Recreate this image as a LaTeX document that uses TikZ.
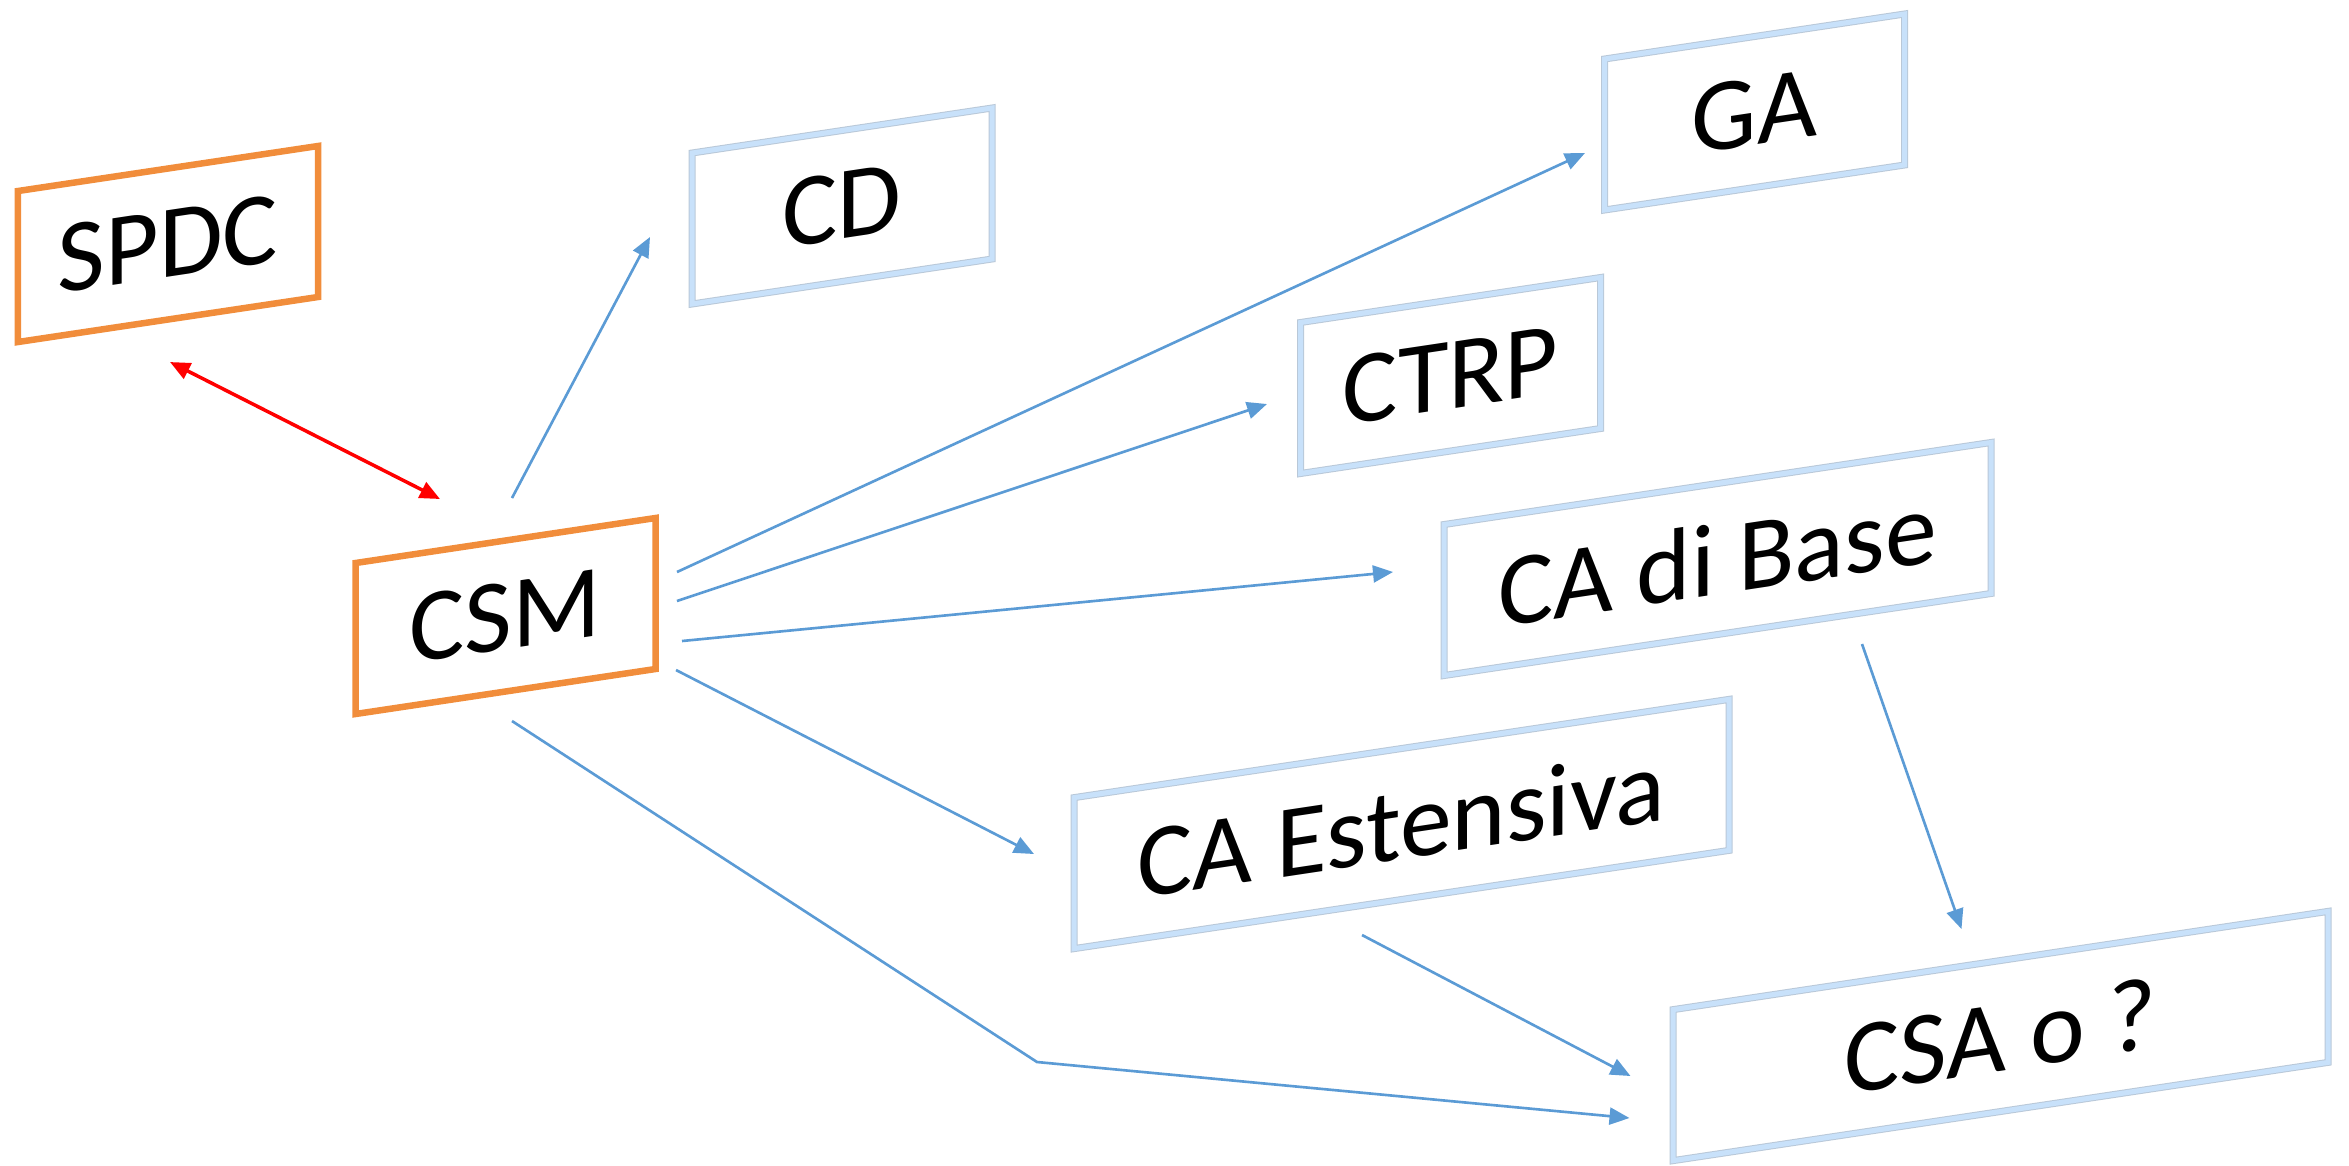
\documentclass[tikz,border=0pt]{standalone}
\usepackage{fontspec}
\setmainfont{Carlito}
\usepackage{tikz}
\usetikzlibrary{arrows.meta,shapes}
\definecolor{boxorange}{RGB}{241,141,59}
\definecolor{boxblue}{RGB}{200,225,250}
\definecolor{boxedge}{RGB}{185,200,216}
\definecolor{arrowblue}{RGB}{91,155,213}
\begin{document}
\begin{tikzpicture}[-, box/.style={rectangle, yslant=0.15, fill=white, minimum height=1.51cm, minimum width=3cm, font=\fontsize{29.5}{35}\selectfont}, orange node/.style={box, draw=boxorange, line width=0.065cm}, blue node/.style={box, draw=boxedge, line width=0.1mm, double=boxblue, double distance=0.5mm}, blue arrow/.style={draw=arrowblue, line width=0.75pt, -{Triangle[length=0.2cm,width=0.17cm]}}, red arrow/.style={draw=red, line width=1pt, {Triangle[length=0.2cm,width=0.17cm]}-{Triangle[length=0.2cm,width=0.17cm]}}]
\useasboundingbox (0,0) rectangle (23.49,-11.65);
\node[orange node] (spdc) at (1.68,-2.44) {SPDC};
\node[orange node] (csm) at (5.055,-6.16) {CSM};
\node[blue node] (cd) at (8.42,-2.06) {CD};
\node[blue node] (ga) at (17.545,-1.12) {GA};
\node[blue node] (ctrp) at (14.505,-3.755) {CTRP};
\node[blue node, minimum width=5.47cm] (cadb) at (17.175,-5.59) {CA di Base};
\node[blue node, minimum width=6.55cm] (caest) at (14.015,-8.24) {CA Estensiva};
\node[blue node, minimum width=6.55cm] (csa) at (20.005,-10.36) {CSA o ?};
\coordinate (bend) at (10.37,-10.62);
\path ([shift={(0.02,-1.18)}]spdc.center) edge[red arrow] ([shift={(-0.655,1.17)}]csm.center);
\path
([shift={(0.065,1.18)}]csm.center) edge[blue arrow] ([shift={(-1.92,-0.31)}]cd.center)
([shift={(1.715,0.44)}]csm.center) edge[blue arrow] ([shift={(-1.695,-0.41)}]ga.center)
([shift={(1.715,0.15)}]csm.center) edge[blue arrow] ([shift={(-1.835,-0.285)}]ctrp.center)
([shift={(1.765,-0.25)}]csm.center) edge[blue arrow] ([shift={(-3.245,-0.13)}]cadb.center)
([shift={(1.705,-0.54)}]csm.center) edge[blue arrow] ([shift={(-3.675,-0.30)}]caest.center)
([shift={(1.445,-0.85)}]cadb.center) edge[blue arrow] ([shift={(-0.39,1.07)}]csa.center)
([shift={(-0.395,-1.11)}]caest.center) edge[blue arrow] ([shift={(-3.70,-0.40)}]csa.center);
\draw[blue arrow] ([shift={(0.065,-1.05)}]csm.center) -- (bend) -- ([shift={(-3.71,-0.82)}]csa.center);
\end{tikzpicture}
\end{document}
